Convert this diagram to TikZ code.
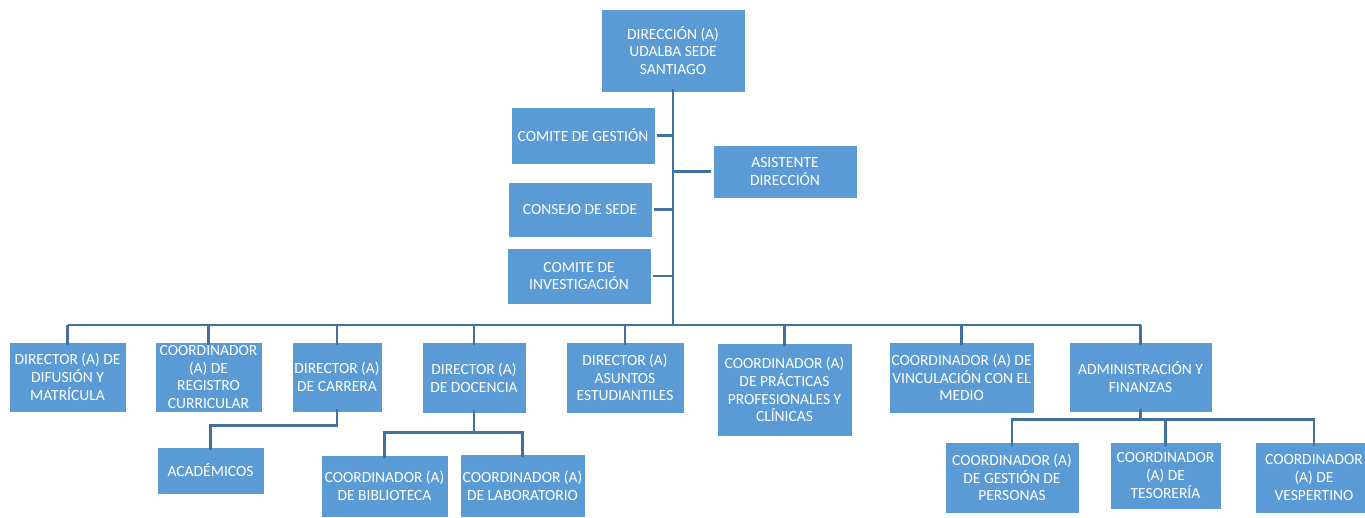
\documentclass[tikz,border=0pt]{standalone}
\usepackage{fontspec}
\setmainfont{Carlito}
\definecolor{boxblue}{HTML}{5B9BD5}
\definecolor{lineblue}{HTML}{41719C}
\begin{document}
\begin{tikzpicture}[
		x=1pt, y=-1pt,
		box/.style={fill=boxblue, draw=white, line width=0.8pt, text=white, align=center,
				inner sep=0pt, font=\fontsize{15.5}{17.8}\selectfont},
		link/.style={draw=lineblue, line width=2.5pt}
	]
	\useasboundingbox (0,0) rectangle (1365,518);
	\node[box, minimum width=144, minimum height=83] (dir) at (673,50.5) {DIRECCIÓN (A)\\UDALBA SEDE\\SANTIAGO};
	\node[box, minimum width=144, minimum height=57] (gestion) at (583,135.5) {COMITE DE GESTIÓN};
	\node[box, minimum width=144, minimum height=53] (asist) at (785,171.5) {ASISTENTE\\DIRECCIÓN};
	\node[box, minimum width=144, minimum height=55] (consejo) at (580,209.5) {CONSEJO DE SEDE};
	\node[box, minimum width=144, minimum height=56] (invest) at (579,276) {COMITE DE\\INVESTIGACIÓN};

	\node[box, minimum width=117, minimum height=70] (difus) at (67.5,377) {DIRECTOR (A) DE\\DIFUSIÓN Y\\MATRÍCULA};
	\node[box, minimum width=107, minimum height=70] (registro) at (208.5,377) {COORDINADOR\\(A) DE\\REGISTRO\\CURRICULAR};
	\node[box, minimum width=90, minimum height=70] (carrera) at (337,377) {DIRECTOR (A)\\DE CARRERA};
	\node[box, minimum width=104, minimum height=71] (docencia) at (474,377.5) {DIRECTOR (A)\\DE DOCENCIA};
	\node[box, minimum width=118, minimum height=71] (asuntos) at (625,377.5) {DIRECTOR (A)\\ASUNTOS\\ESTUDIANTILES};
	\node[box, minimum width=135, minimum height=93] (practicas) at (784.5,389.5) {COORDINADOR (A)\\DE PRÁCTICAS\\PROFESIONALES Y\\CLÍNICAS};
	\node[box, minimum width=145, minimum height=71] (vincul) at (961.5,377.5) {COORDINADOR (A) DE\\VINCULACIÓN CON EL\\MEDIO};
	\node[box, minimum width=143, minimum height=70] (admin) at (1140.5,377) {ADMINISTRACIÓN Y\\FINANZAS};

	\node[box, minimum width=107, minimum height=47] (academ) at (210.5,470.5) {ACADÉMICOS};
	\node[box, minimum width=127, minimum height=62] (biblio) at (384.5,486) {COORDINADOR (A)\\DE BIBLIOTECA};
	\node[box, minimum width=125, minimum height=63] (labor) at (522.5,485.5) {COORDINADOR (A)\\DE LABORATORIO};
	\node[box, minimum width=134, minimum height=71] (personas) at (1012,477.5) {COORDINADOR (A)\\DE GESTIÓN DE\\PERSONAS};
	\node[box, minimum width=111, minimum height=67] (tesor) at (1165.5,475.5) {COORDINADOR\\(A) DE\\TESORERÍA};
	\node[box, minimum width=118, minimum height=71] (vesp) at (1314,477.5) {COORDINADOR\\(A) DE\\VESPERTINO};

	\coordinate (bus) at (673,325);
	\draw[link] ([yshift=3]dir.south) -- (bus);
	\foreach \n in {gestion,consejo,invest}
		\draw[link] ([xshift=2]\n.east) -- (\n.east -| bus);
	\draw[link] ([xshift=-2]asist.west) -- (asist.west -| bus);
	\draw[link] (difus.north |- bus) -- (admin.north |- bus);
	\foreach \n in {difus,registro,carrera,docencia,asuntos,practicas,vincul,admin}
		\draw[link] ([yshift=-3]\n.north) -- (\n.north |- bus);

	\draw[link] ([yshift=3]carrera.south) -- ++(0,16) -| ([yshift=-3]academ.north);
	\draw[link] ([yshift=3]docencia.south) -- ++(0,22) coordinate (dj);
	\draw[link] ([yshift=-3]biblio.north) |- (dj) -| ([yshift=-3]labor.north);
	\draw[link] ([yshift=3]admin.south) -- ++(0,10) coordinate (aj);
	\draw[link] ([yshift=-4]personas.north) |- (aj) -| ([yshift=-4]vesp.north);
	\draw[link] ([yshift=-4]tesor.north) -- (tesor.north |- aj);
\end{tikzpicture}
\end{document}
